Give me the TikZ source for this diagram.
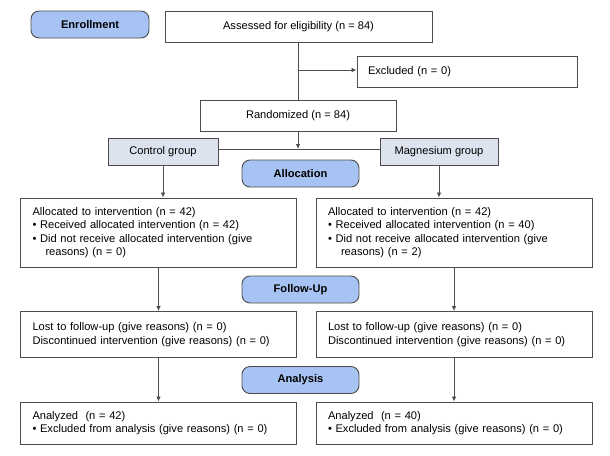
\documentclass[tikz,border=0pt]{standalone}
\usepackage{fontspec}
\setmainfont{Liberation Sans}
\usetikzlibrary{arrows.meta, positioning}
\definecolor{phaseblue}{HTML}{A7C3F3}
\definecolor{groupgray}{HTML}{DCE3EE}
\definecolor{linegray}{HTML}{4D4D4D}

\begin{document}
\begin{tikzpicture}[x=1pt, y=-1pt,
  font=\fontsize{11.1}{13.3}\selectfont,
  phase/.style={draw=linegray, line width=0.9pt, fill=phaseblue, rounded corners=8pt,
    minimum width=117pt, minimum height=27pt, inner sep=0pt,
    font=\fontsize{11.1}{13.3}\selectfont\bfseries},
  box/.style={draw=linegray, line width=0.9pt, inner sep=0pt, align=center},
  group/.style={box, fill=groupgray, minimum height=27pt},
  txtbox/.style={draw=linegray, line width=0.9pt, text width=252pt, align=left,
    inner xsep=12pt, inner ysep=0pt},
  arr/.style={draw=linegray, line width=0.8pt, -{Latex[length=5pt,width=4.5pt]}},
  ln/.style={draw=linegray, line width=0.8pt}]
  \useasboundingbox (0,0) rectangle (610,455);

  % 阶段标签
  \node[phase, minimum width=118pt] (enroll) at (90,24.5) {Enrollment};
  \node[phase] (alloc) at (300.5,173.5) {Allocation};
  \node[phase] (follow) at (300.5,289.5) {Follow-Up};
  \node[phase] (anal) at (300.5,380) {Analysis};

  % 入组
  \node[box, minimum width=267pt, minimum height=31pt] (assess) at (298.5,26.5) {Assessed for eligibility (n = 84)};
  \node[box, minimum width=220pt, minimum height=31pt, text width=198pt, align=left, inner xsep=11pt] (excl) at (467,71.5) {Excluded (n = 0)};
  \node[box, minimum width=196pt, minimum height=31pt] (rand) at (298,115.5) {Randomized (n = 84)};

  % 分组
  \node[group, minimum width=110pt] (ctrl) at (163,151.5) {Control group};
  \node[group, minimum width=118pt] (mag) at (439,151.5) {Magnesium group};

  % 分配
  \node[txtbox, minimum width=275pt, minimum height=69pt] (lalloc) at (158.5,232.5) {Allocated to intervention (n = 42)\\
    • Received allocated intervention (n = 42)\\
    • Did not receive allocated intervention (give\\
    \hspace*{13pt}reasons) (n = 0)};
  \node[txtbox, minimum width=276pt, minimum height=69pt] (ralloc) at (454,232.5) {Allocated to intervention (n = 42)\\
    • Received allocated intervention (n = 40)\\
    • Did not receive allocated intervention (give\\
    \hspace*{13pt}reasons) (n = 2)};

  % 随访
  \node[txtbox, minimum width=275pt, minimum height=46pt] (lfollow) at (158.5,334.5) {Lost to follow-up (give reasons) (n = 0)\\
    Discontinued intervention (give reasons) (n = 0)};
  \node[txtbox, minimum width=276pt, minimum height=46pt] (rfollow) at (454,334.5) {Lost to follow-up (give reasons) (n = 0)\\
    Discontinued intervention (give reasons) (n = 0)};

  % 分析
  \node[txtbox, minimum width=275pt, minimum height=42pt] (lanal) at (158.5,423) {Analyzed~ (n = 42)\\
    • Excluded from analysis (give reasons) (n = 0)};
  \node[txtbox, minimum width=276pt, minimum height=42pt] (ranal) at (454,423) {Analyzed~ (n = 40)\\
    • Excluded from analysis (give reasons) (n = 0)};

  % 连线
  \coordinate (split) at (rand.north |- 0,70);
  \coordinate (join) at ([yshift=2.5pt]ctrl.east);
  \draw[ln] (rand.north |- assess.south) -- (rand.north);
  \draw[arr] (split) -- (excl.west |- split);
  \draw[ln] (join) -- (join -| mag.west);
  \draw[arr] (rand.south) -- (rand.south |- join);
  \draw[arr] (ctrl.south) -- (ctrl.south |- lalloc.north);
  \draw[arr] (mag.south) -- (mag.south |- ralloc.north);
  \draw[arr] (lalloc.south) -- (lfollow.north);
  \draw[arr] (ralloc.south) -- (rfollow.north);
  \draw[arr] (lfollow.south) -- (lanal.north);
  \draw[arr] (rfollow.south) -- (ranal.north);
\end{tikzpicture}
\end{document}
